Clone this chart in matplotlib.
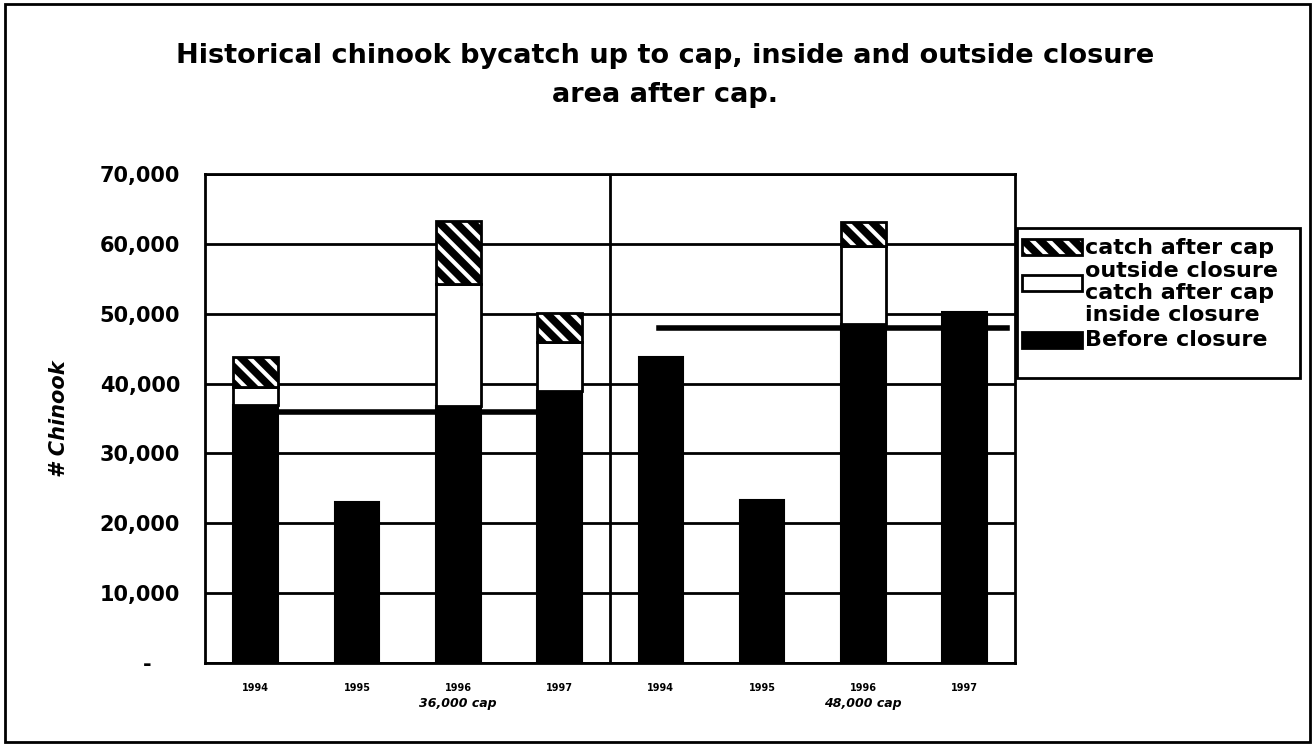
import numpy as np
import matplotlib
matplotlib.use("Agg")
import matplotlib.pyplot as plt
from matplotlib.patches import Rectangle

plt.rcParams['font.family'] = ['DejaVu Sans']
plt.rcParams['hatch.linewidth'] = 5.5

years = ["1994", "1995", "1996", "1997", "1994", "1995", "1996", "1997"]
before_closure = [37000, 23000, 36800, 38900, 43800, 23300, 48500, 50300]
inside_closure = [2500, 0, 17400, 7000, 0, 0, 11200, 0]
outside_closure = [4300, 0, 9000, 4200, 0, 0, 3400, 0]
group_labels = ["36,000 cap", "48,000 cap"]
caps = [36000, 48000]
legend_labels = ["catch after cap\noutside closure", "catch after cap\ninside closure", "Before closure"]

W, H = 1315, 746
x = np.arange(len(years))
w = 0.44

fig = plt.figure(figsize=(W / 100, H / 100), dpi=100)
ax = fig.add_axes([0.156, 0.111, 0.616, 0.656])

# frame round the whole picture
fig.patches.append(Rectangle((0.004, 0.006), 0.992, 0.988, transform=fig.transFigure,
                             fill=False, edgecolor="black", linewidth=2))

bot2 = np.array(before_closure)
bot3 = bot2 + np.array(inside_closure)
ax.bar(x, before_closure, w, color="black", edgecolor="black", linewidth=1.5, zorder=3)
ax.bar(x, inside_closure, w, bottom=bot2, color="white", edgecolor="black", linewidth=2, zorder=3)
ax.bar(x, outside_closure, w, bottom=bot3, color="white", edgecolor="black", linewidth=2,
       hatch="\\\\", zorder=3)

# cap lines
ax.plot([x[0] + w / 2, x[3] - w / 2], [caps[0], caps[0]], color="black", lw=4, zorder=2)
ax.plot([x[4] - 0.02, x[7] + 0.42], [caps[1], caps[1]], color="black", lw=4, zorder=2)

# divider between the two cap groups
ax.axvline(3.5, color="black", lw=2)

ax.set_xlim(-0.5, 7.5)
ax.set_ylim(0, 70000)
ax.set_yticks(np.arange(0, 70001, 10000))
ax.set_yticklabels(["-    "] + [f"{v:,}" for v in range(10000, 70001, 10000)],
                   fontsize=15, fontweight="bold")
ax.set_xticks(x)
ax.set_xticklabels(years, fontsize=7, fontweight="bold")
ax.tick_params(axis="both", length=0)
ax.tick_params(axis="y", pad=18)
ax.tick_params(axis="x", pad=14)
ax.yaxis.grid(True, color="black", linewidth=2)
ax.set_axisbelow(True)
for s in ax.spines.values():
    s.set_linewidth(2)

for i, g in enumerate(group_labels):
    ax.text(x[2 + 4 * i], -0.07, g, transform=ax.get_xaxis_transform(),
            ha="center", va="top", fontsize=9, fontweight="bold", style="italic")

ax.set_ylabel("# Chinook", fontsize=15, fontweight="bold", style="italic", labelpad=22)

fig.text(0.506, 0.942, "Historical chinook bycatch up to cap, inside and outside closure\narea after cap.",
         ha="center", va="top", fontsize=19.5, fontweight="bold", linespacing=1.65)

# legend, drawn by hand so each key sits at the first line of its label
fig.patches.append(Rectangle((1017 / W, 1 - 378 / H), 283 / W, 150 / H, transform=fig.transFigure,
                             fill=True, facecolor="white", edgecolor="black", linewidth=2))
key_y = [247, 283, 340]
text_y = [259.5, 304, 340]
styles = [dict(facecolor="white", hatch="\\\\"), dict(facecolor="white"), dict(facecolor="black")]
for ky, ty, lab, st in zip(key_y, text_y, legend_labels, styles):
    fig.patches.append(Rectangle((1022 / W, 1 - (ky + 8) / H), 60 / W, 16 / H,
                                 transform=fig.transFigure, edgecolor="black", linewidth=2, **st))
    fig.text(1085 / W, 1 - ty / H, lab, ha="left", va="center", fontsize=16,
             fontweight="bold", linespacing=1.15)

fig.savefig("out.png", dpi=100)
